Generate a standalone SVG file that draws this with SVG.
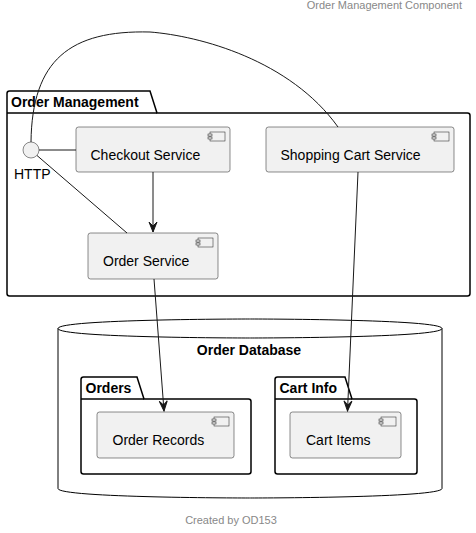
<svg xmlns="http://www.w3.org/2000/svg" xmlns:xlink="http://www.w3.org/1999/xlink" width="476" height="533" viewBox="0 0 476 533">
<style>
text{font-family:"Liberation Sans",Arial,sans-serif;fill:#000}
.note{font-size:11px;fill:#888888}
.lbl{font-size:14px}
.pk{font-size:14px;font-weight:bold}
.box{fill:#F1F1F1;stroke:#181818;stroke-width:0.5}
.pkg{fill:none;stroke:#000;stroke-width:1.5}
.ln{fill:none;stroke:#181818;stroke-width:1}
.ic{fill:#F1F1F1;stroke:#181818;stroke-width:0.5}
</style>
<defs>
<g id="icon">
<rect class="ic" x="0" y="0" width="15" height="9"/>
<rect class="ic" x="-2" y="2" width="4" height="2"/>
<rect class="ic" x="-2" y="5" width="4" height="2"/>
</g>
<marker id="arr" markerWidth="12" markerHeight="10" viewBox="-11 -5 12 10" refX="0" refY="0" orient="auto" markerUnits="userSpaceOnUse">
<path d="M0,0 L-10,-4 L-6,0 L-10,4 Z" fill="#181818" stroke="#181818" stroke-width="1" stroke-linejoin="miter"/>
</marker>
</defs>

<text class="note" x="462" y="9" text-anchor="end">Order Management Component</text>

<g id="pkg-order-management">
<path class="pkg" d="M9.5,91 L150,91 L157,113 L467.5,113 Q470,113 470,115.5 L470,293.5 Q470,296 467.5,296 L9.5,296 Q7,296 7,293.5 L7,93.5 Q7,91 9.5,91 Z"/>
<line class="pkg" x1="7" y1="113" x2="157" y2="113"/>
<text class="pk" x="11" y="106.5">Order Management</text>
</g>

<g id="db-order-database">
<path class="pkg" style="stroke-width:1" d="M58,328.5 C58,319 250,319 250,319 C250,319 442,319 442,328.5 L442,488.5 C442,498 250,498 250,498 C250,498 58,498 58,488.5 Z"/>
<path class="pkg" style="stroke-width:1" d="M58,328.5 C58,338 250,338 250,338 C250,338 442,338 442,328.5"/>
<text class="pk" x="249" y="355" text-anchor="middle">Order Database</text>
</g>

<g id="pkg-orders">
<path class="pkg" d="M83.5,377 L137,377 L144,399 L248.5,399 Q251,399 251,401.5 L251,471.5 Q251,474 248.5,474 L83.5,474 Q81,474 81,471.5 L81,379.5 Q81,377 83.5,377 Z"/>
<line class="pkg" x1="81" y1="399" x2="144" y2="399"/>
<text class="pk" x="85.5" y="392.5">Orders</text>
</g>

<g id="pkg-cart-info">
<path class="pkg" d="M277.5,377 L345,377 L352,399 L414.5,399 Q417,399 417,401.5 L417,471.5 Q417,474 414.5,474 L277.5,474 Q275,474 275,471.5 L275,379.5 Q275,377 277.5,377 Z"/>
<line class="pkg" x1="275" y1="399" x2="352" y2="399"/>
<text class="pk" x="279.5" y="392.5">Cart Info</text>
</g>

<g id="http">
<circle cx="31" cy="150" r="8" fill="#F1F1F1" stroke="#181818" stroke-width="0.5"/>
<text class="lbl" x="14" y="179">HTTP</text>
</g>

<g id="checkout-service">
<rect class="box" x="76" y="127" width="154" height="45" rx="2.5"/>
<use xlink:href="#icon" x="210" y="132"/>
<text class="lbl" x="90.5" y="160">Checkout Service</text>
</g>

<g id="shopping-cart-service">
<rect class="box" x="266" y="127" width="188" height="45" rx="2.5"/>
<use xlink:href="#icon" x="434" y="132"/>
<text class="lbl" x="280.5" y="160">Shopping Cart Service</text>
</g>

<g id="order-service">
<rect class="box" x="88" y="233" width="130" height="46" rx="2.5"/>
<use xlink:href="#icon" x="198" y="238"/>
<text class="lbl" x="103" y="266">Order Service</text>
</g>

<g id="order-records">
<rect class="box" x="97" y="412" width="137" height="46" rx="2.5"/>
<use xlink:href="#icon" x="214" y="417"/>
<text class="lbl" x="112.5" y="445">Order Records</text>
</g>

<g id="cart-items">
<rect class="box" x="290" y="412" width="111" height="46" rx="2.5"/>
<use xlink:href="#icon" x="381" y="417"/>
<text class="lbl" x="306" y="445">Cart Items</text>
</g>

<g id="connectors">
<line class="ln" x1="39" y1="150" x2="76" y2="150"/>
<line class="ln" x1="37" y1="155.5" x2="127" y2="233"/>
<path class="ln" d="M31,142 C32,60 70,30 150,32 C200,36 290,60 338,127"/>
<line class="ln" x1="153" y1="172" x2="153" y2="232" marker-end="url(#arr)"/>
<line class="ln" x1="154" y1="279" x2="164" y2="411" marker-end="url(#arr)"/>
<line class="ln" x1="358" y1="172" x2="347.5" y2="411" marker-end="url(#arr)"/>
</g>

<text class="note" x="231" y="523.5" text-anchor="middle">Created by OD153</text>
</svg>
